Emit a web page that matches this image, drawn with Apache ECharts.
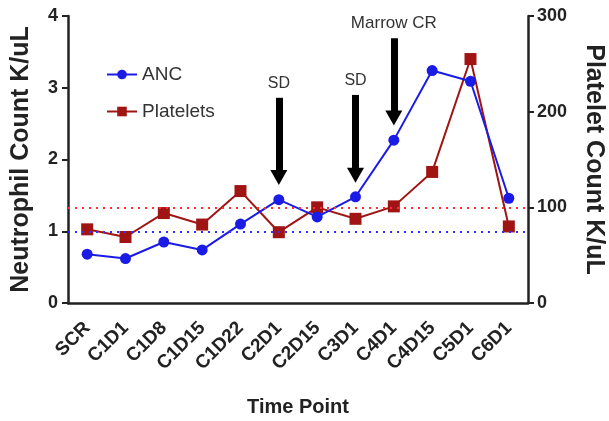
<!DOCTYPE html>
<html><head><meta charset="utf-8">
<script src="https://cdn.jsdelivr.net/npm/echarts@6/dist/echarts.min.js"></script>
<style>html,body{margin:0;padding:0;background:#fff}#c{width:609px;height:421px}</style>
</head><body><div id="c"></div>
<script>
const categories = ['SCR','C1D1','C1D8','C1D15','C1D22','C2D1','C2D15','C3D1','C4D1','C4D15','C5D1','C6D1'];
const ancValues = [0.68,0.62,0.85,0.74,1.10,1.44,1.20,1.48,2.27,3.24,3.09,1.46];
const plateletValues = [77,69,94,82,117,74,100,88,101,137,255,80];
const leftTicks = [0,1,2,3,4];
const rightTicks = [0,100,200,300];
const ancThreshold = 1;
const plateletThreshold = 100;
const arrows = [
  {cat:'C2D1', from:2.86, to:1.75, label:'SD', size:16},
  {cat:'C3D1', from:2.90, to:1.78, label:'SD', size:16},
  {cat:'C4D1', from:3.69, to:2.58, label:'Marrow CR', size:17}
];

const BLUE = '#1b1be6', RED = '#a01414';
const font = 'Liberation Sans, Arial, sans-serif';
const chart = echarts.init(document.getElementById('c'));

const arrowData = arrows.map(a => [
  {coord:[a.cat, a.from], symbol:'none',
   label:{show:true, position:'start', formatter:a.label, distance:6, color:'#333', fontSize:a.size, fontFamily:font},
   lineStyle:{color:'#000', width:7, type:'solid'}},
  {coord:[a.cat, a.to], symbol:'triangle', symbolSize:[17,15]}
]);

chart.setOption({
  animation:false,
  textStyle:{fontFamily:font},
  grid:{left:68, right:81, top:16, bottom:118, containLabel:false, outerBoundsMode:'none'},
  legend:{
    orient:'vertical', left:101, top:60, itemGap:18, itemWidth:30, itemHeight:12,
    textStyle:{fontSize:19, color:'#333', fontFamily:font},
    data:['ANC','Platelets']
  },
  xAxis:{
    type:'category', data:categories, boundaryGap:true,
    name:'Time Point', nameLocation:'middle', nameGap:94,
    nameTextStyle:{fontSize:20, fontWeight:'bold', color:'#222'},
    axisLine:{lineStyle:{color:'#222', width:2.5}},
    axisTick:{alignWithLabel:true, length:7, lineStyle:{width:2, color:'#222'}},
    axisLabel:{rotate:45, fontSize:19, fontWeight:'bold', color:'#222', margin:22, interval:0}
  },
  yAxis:[
    {type:'value', min:leftTicks[0], max:leftTicks[leftTicks.length-1], interval:1,
     name:'Neutrophil Count K/uL', nameLocation:'middle', nameGap:34, nameRotate:90,
     nameTextStyle:{fontSize:25, fontWeight:'bold', color:'#222'},
     axisLine:{show:true, lineStyle:{color:'#222', width:2.5}},
     axisTick:{show:true, length:6, lineStyle:{width:2, color:'#222'}},
     axisLabel:{fontSize:18, fontWeight:'bold', color:'#222', margin:10},
     splitLine:{show:false}},
    {type:'value', min:rightTicks[0], max:rightTicks[rightTicks.length-1], interval:100,
     name:'Platelet Count K/uL', nameLocation:'middle', nameGap:53, nameRotate:-90,
     nameTextStyle:{fontSize:25, fontWeight:'bold', color:'#222'},
     axisLine:{show:true, lineStyle:{color:'#222', width:2.5}},
     axisTick:{show:true, length:6, lineStyle:{width:2, color:'#222'}},
     axisLabel:{fontSize:18, fontWeight:'bold', color:'#222', margin:9},
     splitLine:{show:false}}
  ],
  series:[
    {name:'ANC', type:'line', yAxisIndex:0, data:ancValues,
     symbol:'circle', symbolSize:11, itemStyle:{color:BLUE}, lineStyle:{color:BLUE, width:2}, z:3,
     markLine:{silent:true, symbol:'none', animation:false,
       data:[
         {yAxis:ancThreshold, label:{show:false}, lineStyle:{color:'#3030ff', width:2, type:[2,5]}},
         ...arrowData
       ]}},
    {name:'Platelets', type:'line', yAxisIndex:1, data:plateletValues,
     symbol:'rect', symbolSize:12, itemStyle:{color:RED}, lineStyle:{color:RED, width:2}, z:2,
     markLine:{silent:true, symbol:'none', animation:false,
       data:[{yAxis:plateletThreshold, label:{show:false}, lineStyle:{color:'#ff3030', width:2, type:[2,5]}}]}}
  ]
});
</script></body></html>
